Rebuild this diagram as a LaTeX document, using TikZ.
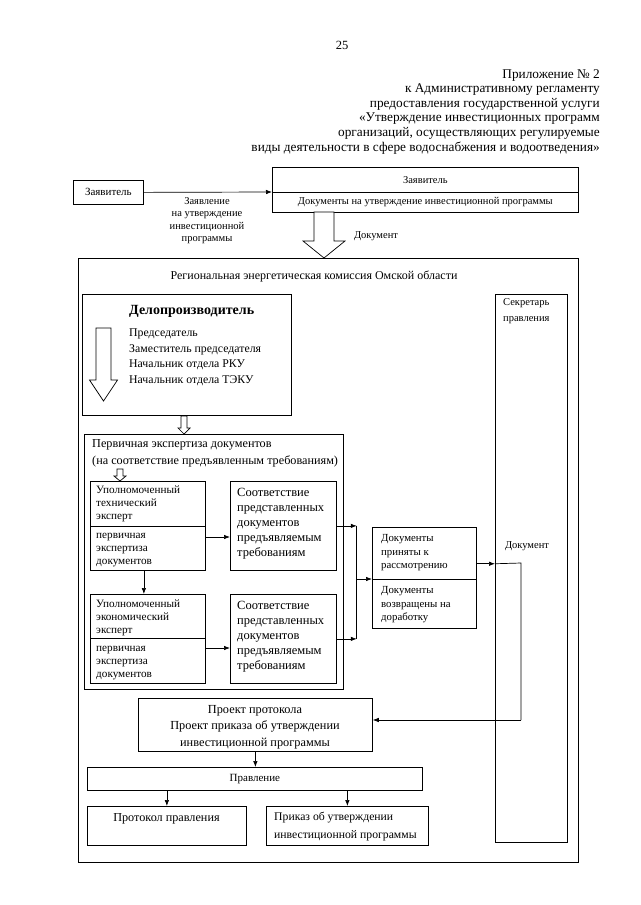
\documentclass[tikz,border=0pt]{standalone}
\usepackage{fontspec}
\setmainfont{Liberation Serif}
\usetikzlibrary{arrows.meta,calc}
\newcommand\fs[2]{\fontsize{#1}{#2}\selectfont}
\newcommand\mlL[1]{\vtop{\halign{##\hfil\cr#1\crcr}}}
\newcommand\mlC[1]{\vtop{\halign{\hfil##\hfil\cr#1\crcr}}}
\newcommand\mlR[1]{\vtop{\halign{\hfil##\cr#1\crcr}}}
\begin{document}
\begin{tikzpicture}[x=1pt,y=-1pt,
 bx/.style={draw, line width=0.75pt, inner sep=0pt, anchor=north west},
 lbl/.style={inner sep=0pt, anchor=base west},
 one/.style={inner sep=0pt, anchor=base},
 arr/.style={-{Latex[length=6pt,width=4.5pt]}, line width=0.7pt},
 ln/.style={line width=0.7pt},
 hollow/.style={draw, line width=0.7pt, fill=white},
]
\useasboundingbox[fill=white] (0,0) rectangle (640,905);

% header
\node[one, font=\fs{12.5}{14.6}] (pg) at (342,49) {25};
\node[inner sep=0pt, anchor=base east, font=\fs{13.3}{14.6}] (hdr) at (600,78)
 {\mlR{Приложение № 2\cr к Административному регламенту\cr предоставления государственной услуги\cr «Утверждение инвестиционных программ\cr организаций, осуществляющих регулируемые\cr виды деятельности в сфере водоснабжения и водоотведения»}};

% top
\node[bx, minimum width=70pt, minimum height=24pt, font=\fs{11}{13}] (zay) at (73,180) {Заявитель};
\node[bx, minimum width=306pt, minimum height=25pt, font=\fs{10.5}{12.5}] (topA) at (272,167) {Заявитель};
\node[bx, minimum width=306pt, minimum height=20pt, font=\fs{10.5}{12.5}] (topB) at (272,192) {Документы на утверждение инвестиционной программы};
\draw[arr] (zay.east) -- (topB.north west);
\node[one, font=\fs{10.5}{12.6}] (zl) at (207,204)
 {\mlC{Заявление\cr на утверждение\cr инвестиционной\cr программы}};
\draw[hollow] (314,212) -- (334,212) -- (334,241) -- (345,241) -- (324,258) -- (303,241) -- (314,241) -- cycle;
\node[one, font=\fs{10.5}{12.5}] (doc1) at (376,238.4) {Документ};

% outer
\node[bx, minimum width=500pt, minimum height=604pt] (rek) at (78,258) {};
\node[one, font=\fs{12}{14}] (rekt) at (314,279) {Региональная энергетическая комиссия Омской области};

% delo
\node[bx, minimum width=209pt, minimum height=121pt] (delo) at (82,294) {};
\draw[hollow] (96,328) -- (111,328) -- (111,380) -- (117.5,380) -- (103.5,401) -- (89.5,380) -- (96,380) -- cycle;
\node[lbl, font=\bfseries\fs{14}{16}] (delot) at (129,314) {Делопроизводитель};
\node[lbl, font=\fs{11.8}{15.5}] (delol) at (129,336.7)
 {\mlL{Председатель\cr Заместитель председателя\cr Начальник отдела РКУ\cr Начальник отдела ТЭКУ}};

% secretary
\node[bx, minimum width=72pt, minimum height=548pt] (sek) at (495,294) {};
\node[lbl, font=\fs{10.5}{16}] (sekt) at (503,305.5) {\mlL{Секретарь\cr правления}};
\node[one, font=\fs{10.5}{12.5}] (doc2) at (527,548.4) {Документ};

% perv
\draw[hollow] (181,416) -- (187,416) -- (187,428) -- (190,428) -- (184,434) -- (178,428) -- (181,428) -- cycle;
\node[bx, minimum width=259pt, minimum height=255pt] (perv) at (84,434) {};
\node[lbl, font=\fs{12.2}{16.5}] (pervt) at (92,447.8)
 {\mlL{Первичная экспертиза документов\cr (на соответствие предъявленным требованиям)}};
\draw[hollow] (117,469) -- (123,469) -- (123,476) -- (126,476) -- (120,481) -- (114,476) -- (117,476) -- cycle;

% experts
\node[bx, minimum width=115pt, minimum height=45pt] (techA) at (90,481) {};
\node[bx, minimum width=115pt, minimum height=44pt] (techB) at (90,526) {};
\node[lbl, font=\fs{11.2}{13}] (techAt) at (96,493.6) {\mlL{Уполномоченный\cr технический\cr эксперт}};
\node[lbl, font=\fs{11.2}{13}] (techBt) at (96,538.6) {\mlL{первичная\cr экспертиза\cr документов}};
\node[bx, minimum width=106pt, minimum height=89pt] (sootv1) at (230,481) {};
\node[lbl, font=\fs{12.5}{15}] (sootv1t) at (237,496) {\mlL{Соответствие\cr представленных\cr документов\cr предъявляемым\cr требованиям}};

\node[bx, minimum width=115pt, minimum height=44pt] (econA) at (90,594) {};
\node[bx, minimum width=115pt, minimum height=45pt] (econB) at (90,638) {};
\node[lbl, font=\fs{11.2}{13}] (econAt) at (96,607.6) {\mlL{Уполномоченный\cr экономический\cr эксперт}};
\node[lbl, font=\fs{11.2}{13}] (econBt) at (96,651) {\mlL{первичная\cr экспертиза\cr документов}};
\node[bx, minimum width=106pt, minimum height=89pt] (sootv2) at (230,594) {};
\node[lbl, font=\fs{12.5}{15}] (sootv2t) at (237,609) {\mlL{Соответствие\cr представленных\cr документов\cr предъявляемым\cr требованиям}};

\coordinate (ta) at ($(techB.north east)+(0,11)$);
\draw[arr] (ta) -- (ta -| sootv1.west);
\coordinate (ea) at ($(econB.north east)+(0,10)$);
\draw[arr] (ea) -- (ea -| sootv2.west);
\draw[arr] ($(techB.south)+(-4,0)$) -- ($(econA.north)+(-4,0)$);

% junction and docs
\coordinate (j1) at ($(sootv1.east)+(20,0)$);
\coordinate (j2) at ($(sootv2.east)+(20,0)$);
\draw[arr] (sootv1.east) -- (j1);
\draw[arr] (sootv2.east) -- (j2);
\draw[ln] (j1) -- (j2);

\node[bx, minimum width=104pt, minimum height=52pt] (docsA) at (372,527) {};
\node[bx, minimum width=104pt, minimum height=49pt] (docsB) at (372,579) {};
\node[lbl, font=\fs{10.8}{13.5}] (docsAt) at (381,541.5) {\mlL{Документы\cr приняты к\cr рассмотрению}};
\node[lbl, font=\fs{10.8}{13.5}] (docsBt) at (381,593.5) {\mlL{Документы\cr возвращены на\cr доработку}};
\draw[arr] (j1 |- docsB.north west) -- (docsB.north west);

\coordinate (d1) at ($(docsA.south east)+(0,-16)$);
\draw[arr] (d1) -- (d1 -| sek.west);
\coordinate (c1) at (521,563);
\coordinate (c2) at (521,720);
\draw[ln] (d1 -| sek.west) -- (c1) -- (c2);

% bottom
\node[bx, minimum width=234pt, minimum height=53pt] (proekt) at (138,698) {};
\node[one, font=\fs{12.3}{16.5}] (proektt) at (255,713)
 {\mlC{Проект протокола\cr Проект приказа об утверждении\cr инвестиционной программы}};
\draw[arr] (c2) -- (c2 -| proekt.east);
\node[bx, minimum width=335pt, minimum height=23pt, font=\fs{11}{13}] (pravl) at (87,767) {Правление};
\draw[arr] (proekt.south) -- (proekt.south |- pravl.north);
\node[bx, minimum width=159pt, minimum height=39pt] (protokol) at (87,806) {};
\node[bx, minimum width=162pt, minimum height=39pt] (prikaz) at (266,806) {};
\draw[arr] (pravl.south -| protokol.north) -- (protokol.north);
\draw[arr] (pravl.south -| prikaz.north) -- (prikaz.north);
\node[one, font=\fs{12.2}{14}] (protokolt) at (166.5,821) {Протокол правления};
\node[lbl, font=\fs{11.7}{17.5}] (prikazt) at (274,820.7) {\mlL{Приказ об утверждении\cr инвестиционной программы}};
\end{tikzpicture}
\end{document}
